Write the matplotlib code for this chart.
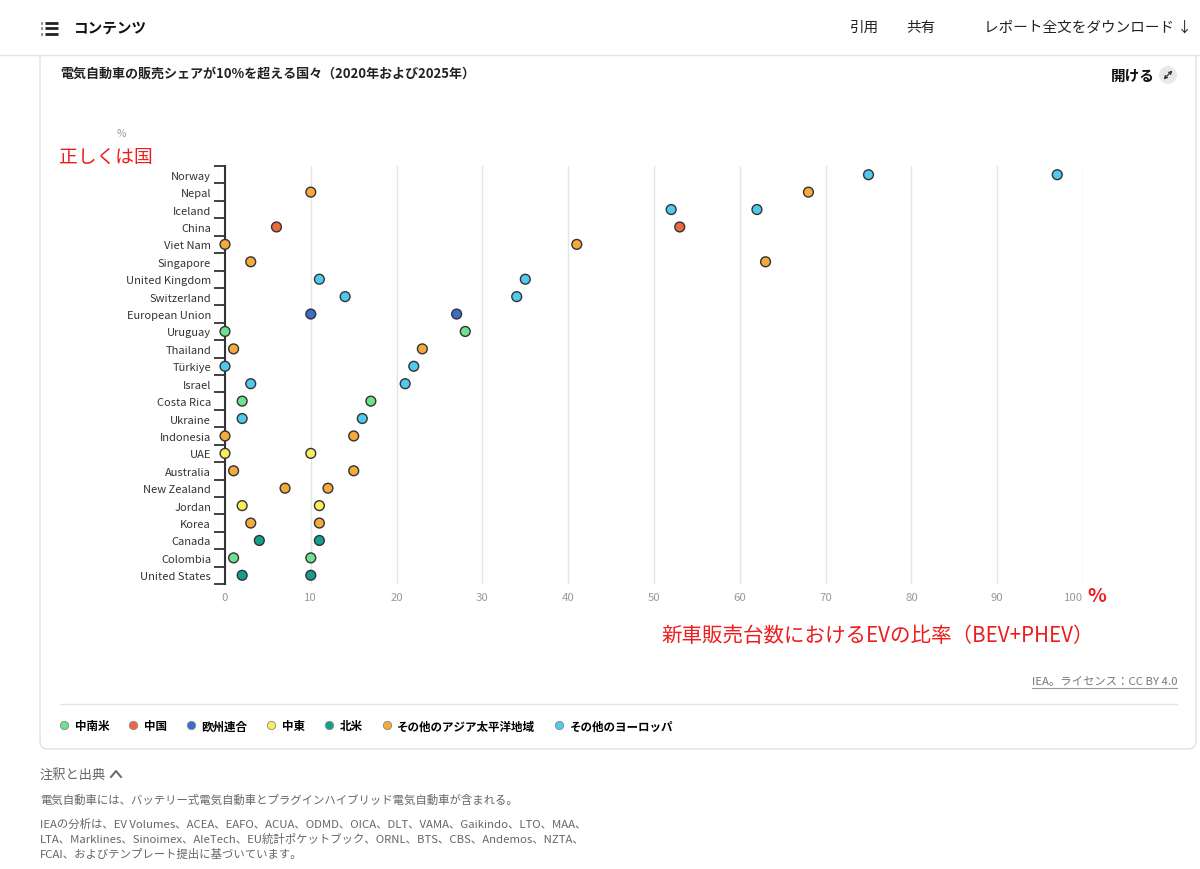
import numpy as np
import matplotlib
matplotlib.use('Agg')
import matplotlib.pyplot as plt
from matplotlib.patches import FancyBboxPatch, Rectangle, Circle
from matplotlib.lines import Line2D

plt.rcParams['font.family'] = ['Noto Sans CJK JP', 'DejaVu Sans']

# data (EV share of new car sales, %)
countries = ['Norway', 'Nepal', 'Iceland', 'China', 'Viet Nam', 'Singapore',
             'United Kingdom', 'Switzerland', 'European Union', 'Uruguay',
             'Thailand', 'Türkiye', 'Israel', 'Costa Rica', 'Ukraine',
             'Indonesia', 'UAE', 'Australia', 'New Zealand', 'Jordan',
             'Korea', 'Canada', 'Colombia', 'United States']
share_2020 = [75, 10, 52, 6, 0, 3, 11, 14, 10, 0, 1, 0, 3, 2, 2, 0, 0, 1, 7, 2, 3, 4, 1, 2]
share_2025 = [97, 68, 62, 53, 41, 63, 35, 34, 27, 28, 23, 22, 21, 17, 16, 15, 10, 15, 12, 11, 11, 11, 10, 10]
regions = ['eur', 'apac', 'eur', 'cn', 'apac', 'apac', 'eur', 'eur', 'eu', 'csam',
           'apac', 'eur', 'eur', 'csam', 'eur', 'apac', 'me', 'apac', 'apac', 'me',
           'apac', 'na', 'csam', 'na']

region_keys = ['csam', 'cn', 'eu', 'me', 'na', 'apac', 'eur']
region_names = ['中南米', '中国', '欧州連合', '中東', '北米', 'その他のアジア太平洋地域', 'その他のヨーロッパ']
region_colors = ['#6ee08e', '#ea6a3f', '#3d6cc9', '#f8ec5a', '#139f8b', '#f4aa3c', '#4fcaee']
col = dict(zip(region_keys, region_colors))

xticks = list(range(0, 101, 10))

W, H = 1200, 870
fig = plt.figure(figsize=(12, 8.7), dpi=100)

# page background in pixel coords
bg = fig.add_axes([0, 0, 1, 1], zorder=0)
bg.set_xlim(0, W)
bg.set_ylim(H, 0)
bg.axis('off')

card = FancyBboxPatch((40, 20), 1156, 730, boxstyle='round,pad=0,rounding_size=8',
                      fc='white', ec='#e2e2e2', lw=1, zorder=1)
bg.add_patch(card)
bg.add_patch(Rectangle((0, 0), W, 56, fc='white', ec='none', zorder=2))
bg.plot([0, W], [56, 56], color='#e4e4e4', lw=1, zorder=3)

# header
for yy in (23.5, 29, 34.5):
    bg.plot([40.5, 41.5], [yy, yy], color='#222', lw=2.0, zorder=4, solid_capstyle='butt')
    bg.plot([45, 58], [yy, yy], color='#222', lw=2.0, zorder=4, solid_capstyle='butt')
bg.text(74, 28, 'コンテンツ', fontsize=10.5, fontweight='bold', va='center', color='#111', zorder=4)
bg.text(865, 28, '引用', fontsize=10.5, va='center', ha='center', color='#222', zorder=4)
bg.text(921, 28, '共有', fontsize=10.5, va='center', ha='center', color='#222', zorder=4)
bg.text(1192, 28, 'レポート全文をダウンロード ↓', fontsize=10.5, va='center', ha='right', color='#222', zorder=4)

# card texts
bg.text(60, 74, '電気自動車の販売シェアが10%を超える国々（2020年および2025年）',
        fontsize=9.4, fontweight='bold', va='center', color='#222', zorder=4)
bg.text(1155, 76, '開ける', fontsize=10.5, fontweight='bold', va='center', ha='right', color='#111', zorder=4)
bg.add_patch(Circle((1168, 76), 9, fc='#e9e9e9', ec='none', zorder=4))
# expand icon (⤢ has no installed glyph): drawn as a diagonal double arrow
bg.annotate('', xy=(1172.5, 71.5), xytext=(1163.5, 80.5),
            arrowprops=dict(arrowstyle='<->', lw=0.9, color='#333', mutation_scale=5,
                            shrinkA=0, shrinkB=0), zorder=5)
bg.text(121, 134, '%', fontsize=7.5, va='center', ha='center', color='#999', zorder=4)
bg.text(59, 157, '正しくは国', fontsize=13.5, va='center', color='#ee1c1c', zorder=4)
bg.text(1087, 597, '%', fontsize=14, fontweight='bold', va='center', ha='left', color='#ee1c1c', zorder=4)
bg.text(878, 636, '新車販売台数におけるEVの比率（BEV+PHEV）', fontsize=14.8, va='center', ha='center',
        color='#ee1c1c', zorder=4)
lic = bg.text(1177, 682, 'IEA。ライセンス：CC BY 4.0', fontsize=8.2, va='center', ha='right',
              color='#777', zorder=4)
bg.plot([60, 1177], [705, 705], color='#e4e4e4', lw=1, zorder=4)

# notes below card
bg.text(40, 775, '注釈と出典', fontsize=9.5, va='center', color='#666', zorder=4)
bg.plot([111, 116, 121], [778, 772, 778], color='#666', lw=1.4, zorder=4)
notes = ['電気自動車には、バッテリー式電気自動車とプラグインハイブリッド電気自動車が含まれる。',
         'IEAの分析は、EV Volumes、ACEA、EAFO、ACUA、ODMD、OICA、DLT、VAMA、Gaikindo、LTO、MAA、',
         'LTA、Marklines、Sinoimex、AleTech、EU統計ポケットブック、ORNL、BTS、CBS、Andemos、NZTA、',
         'FCAI、およびテンプレート提出に基づいています。']
for txt, yy in zip(notes, [800, 824, 839, 854]):
    bg.text(40, yy, txt, fontsize=8.2, va='center', color='#666', zorder=4)

# main chart
ax = fig.add_axes([225 / W, 1 - 585 / H, (1083 - 225) / W, (585 - 167) / H], zorder=2)
ax.patch.set_alpha(0)
y = np.arange(len(countries))
c = [col[r] for r in regions]
ax.scatter(share_2020, y, s=50, c=c, edgecolors='#333', linewidths=1, zorder=3, clip_on=False)
ax.scatter(share_2025, y, s=50, c=c, edgecolors='#333', linewidths=1, zorder=3, clip_on=False)
ax.set_xlim(0, 100)
ax.set_ylim(len(countries) - 0.5, -0.5)
ax.set_xticks(xticks)
ax.set_xticklabels([str(t) for t in xticks])
ax.get_xticklabels()[-1].set_ha('right')
ax.set_yticks(y)
ax.set_yticklabels(countries)
ax.set_yticks(np.arange(len(countries) + 1) - 0.5, minor=True)
ax.tick_params(axis='y', which='major', length=0, pad=10, labelsize=8, labelcolor='#333')
ax.tick_params(axis='y', which='minor', length=8, width=1.3, color='#333')
ax.tick_params(axis='x', length=0, pad=6, labelsize=8.2, labelcolor='#999')
ax.grid(axis='x', color='#e5e5e5', lw=1, zorder=0)
for s in ['top', 'right', 'bottom']:
    ax.spines[s].set_visible(False)
ax.spines['left'].set_color('#333')
ax.spines['left'].set_linewidth(1.5)
ax.spines['left'].set_zorder(2)

# legend
handles = [Line2D([], [], marker='o', ls='none', ms=6, mfc=rc, mec='#888', mew=0.6)
           for rc in region_colors]
fig.legend(handles, region_names, loc='center left', bbox_to_anchor=(48 / W, 1 - 727 / H),
           ncol=7, frameon=False, handlelength=1.0, handletextpad=0.4, columnspacing=1.6,
           prop={'weight': 'bold', 'size': 8.3})

# underline licence text
fig.canvas.draw()
bb = lic.get_window_extent()
x0 = bb.x0 * W / fig.bbox.width
bg.plot([x0, 1177], [689, 689], color='#999', lw=0.8, zorder=4)

fig.savefig('out.png', dpi=100)
